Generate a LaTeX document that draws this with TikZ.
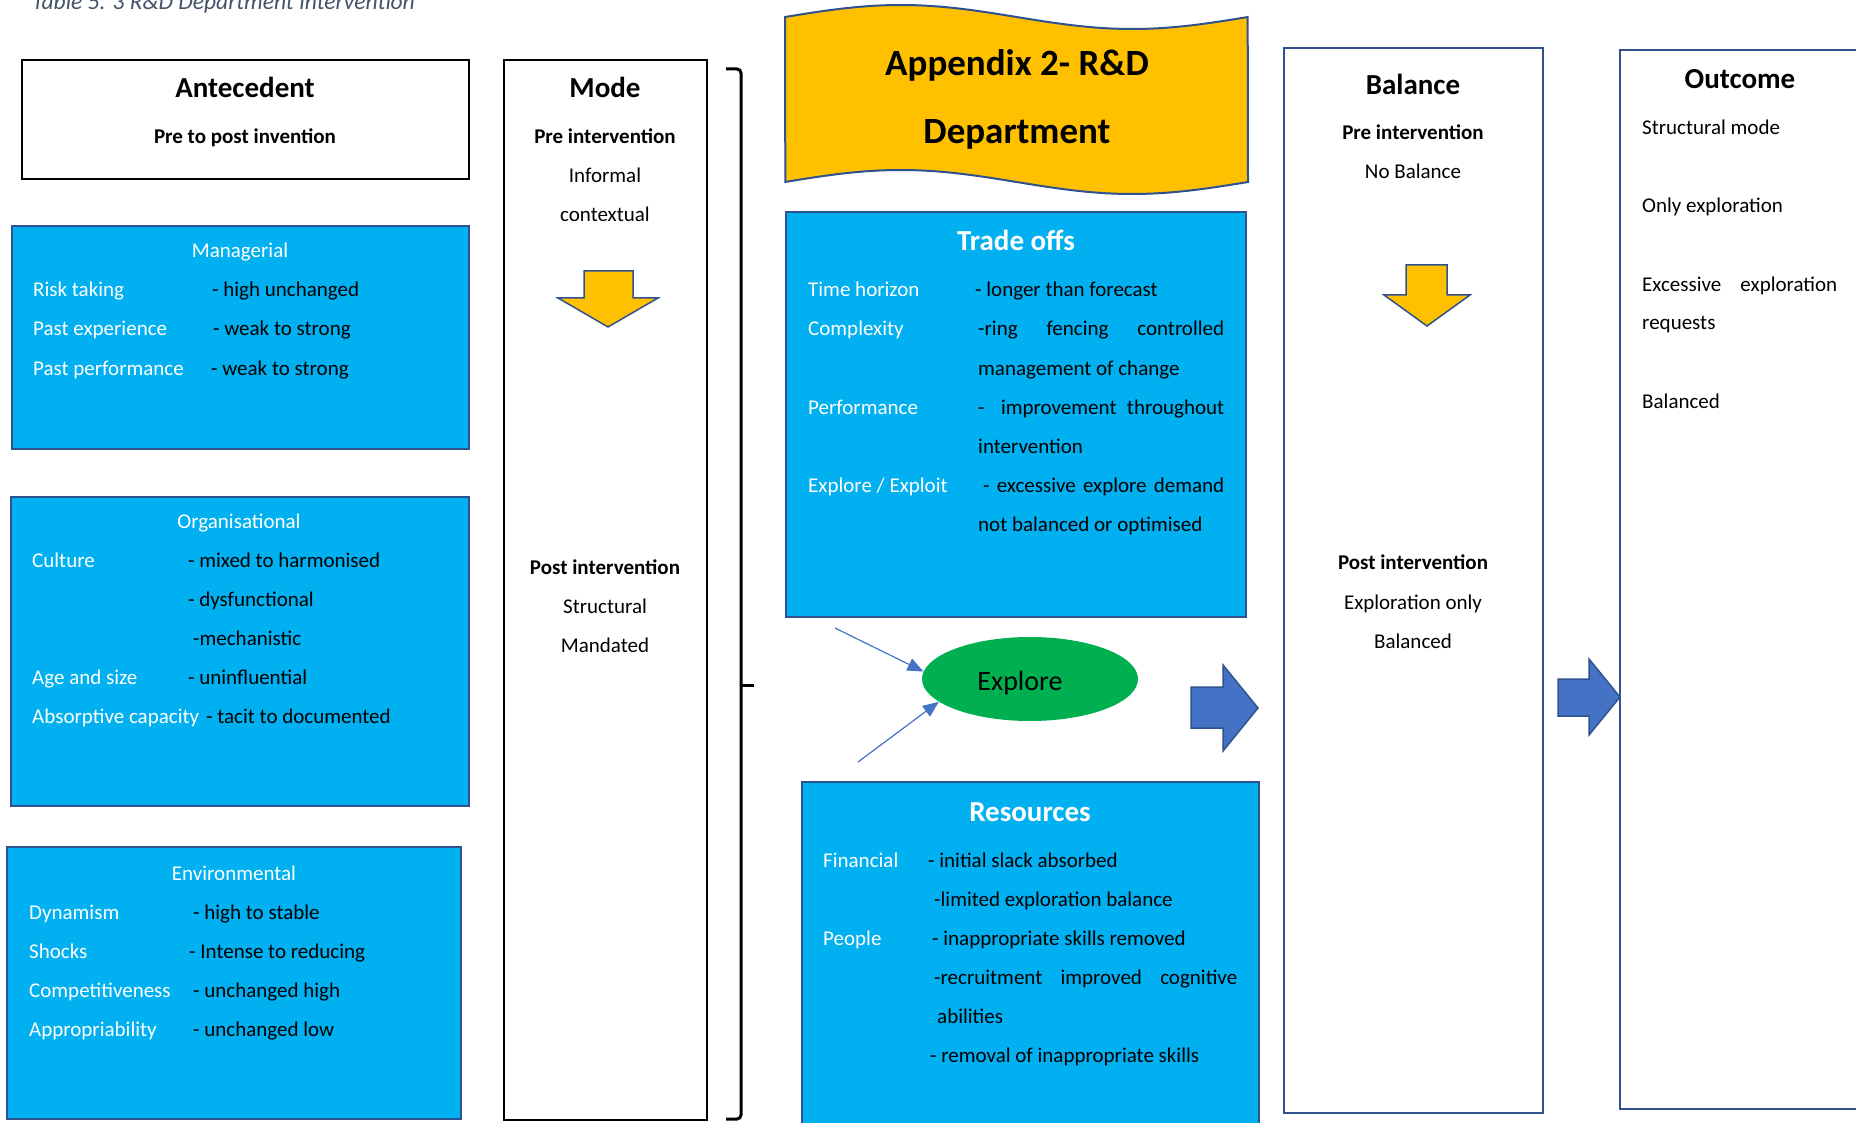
\documentclass[tikz,border=0pt]{standalone}
\usepackage{fontspec}
\setmainfont{Carlito}
\usetikzlibrary{shapes.geometric,arrows.meta}

\definecolor{cyanfill}{HTML}{00B0F0}
\definecolor{edgeblue}{HTML}{2F528F}
\definecolor{gold}{HTML}{FFC000}
\definecolor{leaf}{HTML}{00B050}
\definecolor{arrowblue}{HTML}{4472C4}
\definecolor{captiongray}{HTML}{44546A}

\newcommand{\fsbody}{\fontsize{21pt}{39pt}\selectfont}
\newcommand{\fshead}{\fontsize{29pt}{35pt}\selectfont\bfseries}

\tikzset{
  panel/.style={draw=edgeblue, fill=cyanfill, line width=2pt, inner sep=0pt, outer sep=0pt, anchor=north west},
  column/.style={draw=edgeblue, fill=white, line width=2pt, inner sep=0pt, outer sep=0pt, anchor=north west},
  plainbox/.style={draw=black, line width=1.5pt, inner sep=0pt, outer sep=0pt, anchor=north west},
  key/.style={anchor=base west, inner sep=0pt, text=white, font=\fsbody},
  val/.style={anchor=base west, inner sep=0pt, text=black, font=\fsbody},
  ctr/.style={anchor=base, inner sep=0pt, font=\fsbody},
  ctrb/.style={anchor=base, inner sep=0pt, font=\fsbody\bfseries},
  head/.style={anchor=base, inner sep=0pt, font=\fshead},
  downarrow/.style={draw=edgeblue, fill=gold, line width=1.5pt, line join=miter},
  blockarrow/.style={draw=edgeblue, fill=arrowblue, line width=1.5pt, line join=miter},
  feed/.style={draw=arrowblue, line width=1.2pt, -{Triangle[length=16pt,width=13pt]}},
  banner/.style={draw=edgeblue, fill=gold, line width=2pt},
  brace/.style={draw=black, line width=3pt, rounded corners=4pt},
}

\begin{document}
\begin{tikzpicture}[x=1pt, y=-1pt]
\useasboundingbox (0,0) rectangle (1856,1123);
\clip (0,0) rectangle (1856,1123);

% caption
\node[anchor=base west, inner sep=0pt, font=\fontsize{23.5pt}{26pt}\selectfont\itshape, text=captiongray]
  (caption) at (32,10) {Table 5. 3 R\&D Department Intervention};

% ---------- antecedent column ----------
\node[plainbox, minimum width=447pt, minimum height=119pt] (antebox) at (22,60) {};
\node[head] (antetitle) at (245,98) {Antecedent};
\node[ctrb] (antesub) at (245,144) {Pre to post invention};

\node[panel, minimum width=457pt, minimum height=223pt] (managerial) at (12,226) {};
\node[ctr, text=white] (mantitle) at (240,258) {Managerial};
\node[key] (m1k) at (33,297) {Risk taking};
\node[val] (m1v) at (212,297) {- high unchanged};
\node[key] (m2k) at (33,336) {Past experience};
\node[val] (m2v) at (213,336) {- weak to strong};
\node[key] (m3k) at (33,375) {Past performance};
\node[val] (m3v) at (211,375) {- weak to strong};

\node[panel, minimum width=458pt, minimum height=309pt] (organisational) at (11,497) {};
\node[ctr, text=white] (orgtitle) at (239,528) {Organisational};
\node[key] (o1k) at (32,567) {Culture};
\node[val] (o1v) at (188,567) {- mixed to harmonised};
\node[val] (o2v) at (188,606) {- dysfunctional};
\node[val] (o3v) at (193,645) {-mechanistic};
\node[key] (o4k) at (32,684) {Age and size};
\node[val] (o4v) at (188,684) {- uninfluential};
\node[key] (o5k) at (32,723) {Absorptive capacity};
\node[val] (o5v) at (206,723) {- tacit to documented};

\node[panel, minimum width=454pt, minimum height=272pt] (environmental) at (7,847) {};
\node[ctr, text=white] (envtitle) at (234,880) {Environmental};
\node[key] (e1k) at (29,919) {Dynamism};
\node[val] (e1v) at (193,919) {- high to stable};
\node[key] (e2k) at (29,958) {Shocks};
\node[val] (e2v) at (189,958) {- Intense to reducing};
\node[key] (e3k) at (29,997) {Competitiveness};
\node[val] (e3v) at (193,997) {- unchanged high};
\node[key] (e4k) at (29,1036) {Appropriability};
\node[val] (e4v) at (193,1036) {- unchanged low};

% ---------- mode column ----------
\node[plainbox, minimum width=203pt, minimum height=1060pt] (modebox) at (504,60) {};
\node[head] (modetitle) at (605,98) {Mode};
\node[ctrb] (modepre) at (605,144) {Pre intervention};
\node[ctr] (modepre1) at (605,183) {Informal};
\node[ctr] (modepre2) at (605,222) {contextual};
\draw[downarrow] (584,271) -- (633,271) -- (633,298) -- (658,298) -- (608,327)
  -- (558,298) -- (584,298) -- cycle;
\node[ctrb] (modepost) at (605,574) {Post intervention};
\node[ctr] (modepost1) at (605,613) {Structural};
\node[ctr] (modepost2) at (605,652) {Mandated};

% brace
\draw[brace] (726,69) -| (741,1119) -- (726,1119);
\draw[brace] (741,685) -- (754,685);

% ---------- banner ----------
\draw[banner] plot[domain=0:1, samples=80] ({785+463*\x},{17-12*sin(360*\x)})
  -- plot[domain=1:0, samples=80] ({785+463*\x},{182-12*sin(360*\x)}) -- cycle;
\node[anchor=base, inner sep=0pt, font=\fontsize{37pt}{40pt}\selectfont\bfseries] (bannerA) at (1017,76) {Appendix 2- R\&D};
\node[anchor=base, inner sep=0pt, font=\fontsize{37pt}{40pt}\selectfont\bfseries] (bannerB) at (1017,144) {Department};

% ---------- trade offs ----------
\node[panel, minimum width=460pt, minimum height=405pt] (tradeoffs) at (786,212) {};
\node[head, text=white] (tradetitle) at (1016,251) {Trade offs};
\node[key] (t1k) at (808,297) {Time horizon};
\node[val] (t1v) at (975,297) {- longer than forecast};
\node[key] (t2k) at (808,336) {Complexity};
\node[val] (t2v) at (978,336) {\makebox[246pt][s]{-ring fencing controlled}};
\node[val] (t2w) at (978,375) {management of change};
\node[key] (t3k) at (808,414) {Performance};
\node[val] (t3v) at (978,414) {\makebox[246pt][s]{- \hspace{8pt} improvement \hspace{2pt} throughout}};
\node[val] (t3w) at (978,453) {intervention};
\node[key] (t4k) at (808,492) {Explore / Exploit};
\node[val] (t4v) at (983,492) {\makebox[241pt][s]{- excessive explore demand}};
\node[val] (t4w) at (978,531) {not balanced or optimised};

% ---------- explore ----------
\node[ellipse, fill=leaf, minimum width=216pt, minimum height=84pt, inner sep=0pt] (explore) at (1030,679) {};
\node[anchor=base, inner sep=0pt, font=\fontsize{28pt}{30pt}\selectfont] (exploretext) at (1020,690) {Explore};
\coordinate (feedA) at (835,628);
\coordinate (feedB) at (858,762);
\draw[feed] (feedA) -- (explore.176);
\draw[feed] (feedB) -- (explore.194);

\draw[blockarrow] (1191,687) -- (1223,687) -- (1223,665) -- (1258,708) -- (1223,751)
  -- (1223,728) -- (1191,728) -- cycle;

% ---------- resources ----------
\node[panel, minimum width=457pt, minimum height=360pt] (resources) at (802,782) {};
\node[head, text=white] (restitle) at (1030,821) {Resources};
\node[key] (r1k) at (823,867) {Financial};
\node[val] (r1v) at (928,867) {- initial slack absorbed};
\node[val] (r2v) at (934,906) {-limited exploration balance};
\node[key] (r3k) at (823,945) {People};
\node[val] (r3v) at (932,945) {- inappropriate skills removed};
\node[val] (r4v) at (934,984) {\makebox[303pt][s]{-recruitment improved cognitive}};
\node[val] (r5v) at (937,1023) {abilities};
\node[val] (r6v) at (930,1062) {- removal of inappropriate skills};

% ---------- balance column ----------
\node[column, minimum width=259pt, minimum height=1065pt] (balancebox) at (1284,48) {};
\node[head] (baltitle) at (1413,95) {Balance};
\node[ctrb] (balpre) at (1413,140) {Pre intervention};
\node[ctr] (balpre1) at (1413,179) {No Balance};
\draw[downarrow] (1406,265) -- (1447,265) -- (1447,295) -- (1470,295) -- (1427,326)
  -- (1384,295) -- (1406,295) -- cycle;
\node[ctrb] (balpost) at (1413,569) {Post intervention};
\node[ctr] (balpost1) at (1413,609) {Exploration only};
\node[ctr] (balpost2) at (1413,648) {Balanced};

\draw[blockarrow] (1558,679) -- (1589,679) -- (1589,659) -- (1620,697) -- (1589,735)
  -- (1589,716) -- (1558,716) -- cycle;

% ---------- outcome column ----------
\node[column, minimum width=260pt, minimum height=1059pt] (outcomebox) at (1620,50) {};
\node[head] (outtitle) at (1740,89) {Outcome};
\node[val] (out1) at (1642,135) {Structural mode};
\node[val] (out2) at (1642,213) {Only exploration};
\node[val] (out3) at (1642,292) {\makebox[195pt][s]{Excessive exploration}};
\node[val] (out4) at (1642,330) {requests};
\node[val] (out5) at (1642,408) {Balanced};

\end{tikzpicture}
\end{document}
